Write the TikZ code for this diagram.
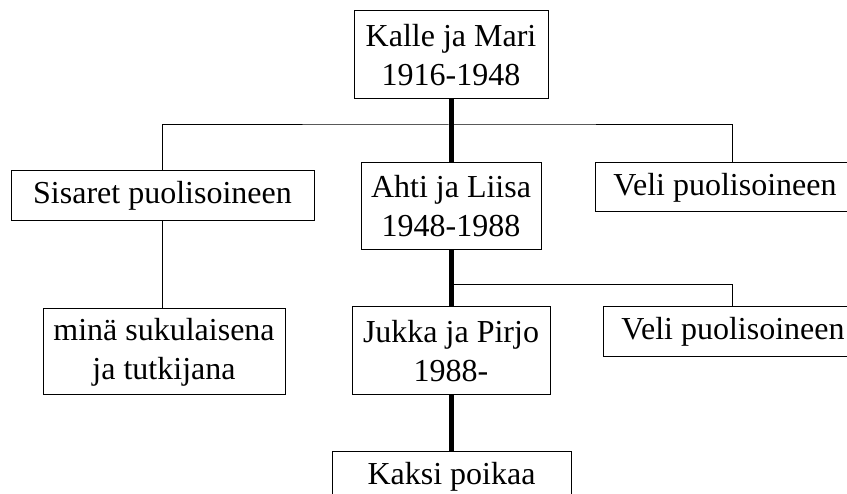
\documentclass[tikz,border=0pt]{standalone}
\usepackage{fontspec}
\setmainfont{Liberation Serif}
\usepackage{tikz}

\begin{document}
\begin{tikzpicture}[x=1pt, y=-1pt,
    person/.style={draw, line width=1pt, inner sep=0pt, align=center,
      font=\fontsize{32}{39}\selectfont},
    thin/.style={line width=1pt},
    thick line/.style={line width=5pt}]
    \useasboundingbox (0,0) rectangle (847,494);
    \clip (0,0) rectangle (847,494);
    % Draw the families
    \node[person, minimum width=194pt, minimum height=88pt] (kalle) at (451,55) {Kalle ja Mari\\1916-1948};
    \node[person, minimum width=303pt, minimum height=50pt] (sisaret) at (162.5,196) {Sisaret puolisoineen};
    \node[person, minimum width=180pt, minimum height=87pt] (ahti) at (451,206.5) {Ahti ja Liisa\\1948-1988};
    \node[person, minimum width=260pt, minimum height=49pt] (veli1) at (725,187.5) {Veli puolisoineen};
    \node[person, minimum width=242pt, minimum height=86pt] (mina) at (164,352) {minä sukulaisena\\ja tutkijana};
    \node[person, minimum width=198pt, minimum height=88pt] (jukka) at (451,351) {Jukka ja Pirjo\\1988-};
    \node[person, minimum width=260pt, minimum height=50pt] (veli2) at (733,332) {Veli puolisoineen};
    \node[person, minimum width=239pt, minimum height=50pt] (kaksi) at (451.5,477) {Kaksi poikaa};
    % Draw the branches
    \coordinate (branch1) at (451,125);
    \coordinate (branch2) at (451,285);
    \draw[thin] (sisaret.north) |- (branch1) -| ([xshift=7pt]veli1.north);
    \draw[thin] (sisaret.south) -- (sisaret.south |- mina.north);
    \draw[thin] (branch2) -| ([xshift=-1pt]veli2.north);
    % Draw the line of descent
    \draw[thick line] (kalle.south) -- (ahti.north);
    \draw[thick line] (ahti.south) -- (jukka.north);
    \draw[thick line] (jukka.south) -- (jukka.south |- kaksi.north);
  \end{tikzpicture}
\end{document}
